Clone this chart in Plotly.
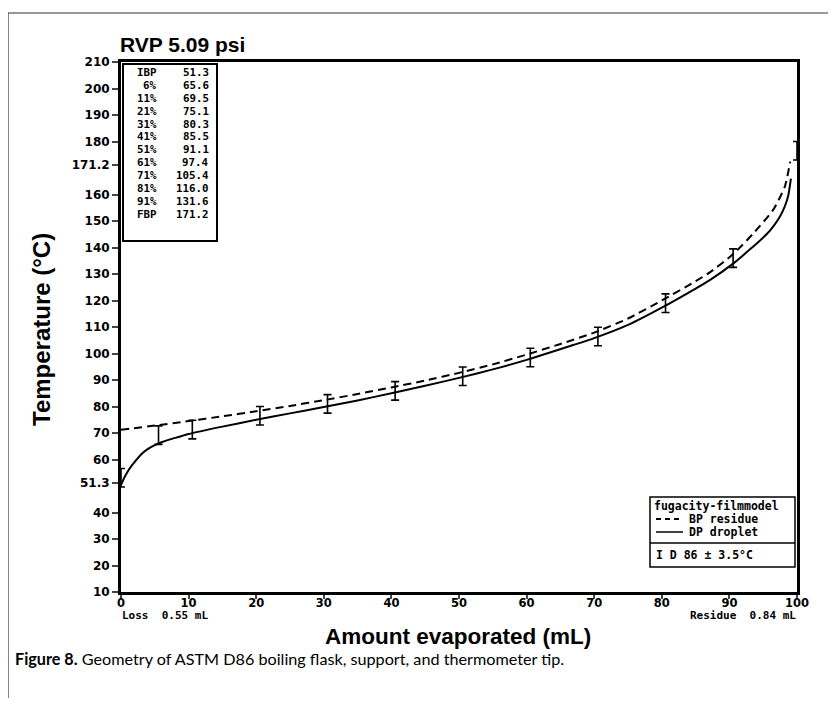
import plotly.graph_objects as go

# ---------------- data ----------------
title_text = "RVP 5.09 psi"
x_label = "Amount evaporated (mL)"
y_label = "Temperature (°C)"
caption_bold = "Figure 8."
caption_rest = " Geometry of ASTM D86 boiling flask, support, and thermometer tip."
loss_text = "Loss  0.55 mL"
residue_text = "Residue  0.84 mL"

table_labels = ["IBP", "6%", "11%", "21%", "31%", "41%", "51%", "61%", "71%", "81%", "91%", "FBP"]
table_values = ["51.3", "65.6", "69.5", "75.1", "80.3", "85.5", "91.1", "97.4", "105.4", "116.0", "131.6", "171.2"]

legend_title = "fugacity-filmmodel"
bp_name = "BP residue"
dp_name = "DP droplet"
d86_name = "D 86 ± 3.5°C"

# BP residue (dashed)
bp_x = [0, 5, 10, 15, 20, 25, 30, 35, 40, 45, 50, 55, 60, 65, 70, 75, 80, 85, 87.1, 90.6, 93.5, 96.5, 98.2, 99.0]
bp_t = [71.2, 72.8, 74.5, 76.3, 78.2, 80.2, 82.4, 84.7, 87.2, 89.8, 92.7, 95.9, 99.6, 103.6, 107.9, 113.2, 120.0, 127.3, 130.6, 137.6, 145.2, 154.3, 163.0, 172.4]

# DP droplet (solid)
dp_x = [0, 0.5, 1, 1.5, 2, 3, 4, 5, 6, 7, 8.5, 10, 15, 20, 25, 30, 35, 40, 45, 50, 55, 60, 66.9, 70, 75, 80, 85, 87.1, 90.6, 93.0, 95.5, 96.5, 97.5, 98.2, 98.7, 99.1]
dp_t = [50.4, 53.2, 55.5, 57.4, 59.0, 62.0, 64.0, 65.4, 66.5, 67.4, 68.5, 69.6, 72.4, 75.0, 77.4, 79.8, 82.3, 85.0, 87.8, 90.8, 94.0, 97.6, 103.2, 105.8, 110.8, 117.3, 124.5, 127.7, 134.0, 139.2, 145.0, 148.0, 151.8, 155.5, 159.5, 166.0]

# D86 measurements with +/- 3.5 error bars
d86_x = [0, 5.55, 10.55, 20.55, 30.55, 40.55, 50.55, 60.55, 70.55, 80.55, 90.55, 100]
d86_t = [53.1, 69.2, 71.3, 76.5, 81.0, 85.9, 91.4, 98.5, 106.4, 119.0, 136.0, 176.5]
d86_err = [3.5] * len(d86_x)

x_tickvals = [0, 10, 20, 30, 40, 50, 60, 70, 80, 90, 100]
y_tickvals = [10, 20, 30, 40, 51.3, 60, 70, 80, 90, 100, 110, 120, 130, 140, 150, 160, 171.2, 180, 190, 200, 210]
y_ticktext = ["10", "20", "30", "40", "51.3", "60", "70", "80", "90", "100", "110", "120", "130", "140", "150", "160", "171.2", "180", "190", "200", "210"]

# ---------------- layout geometry ----------------
# reference-pixel coordinates; the page body adds an 8px offset
OFF = 8
FW, FH = 820, 690
L, R, T, B = 121, 797, 62, 592          # plot area in reference pixels
PW, PH = R - L, B - T


def px(xp):
    return (xp - L) / PW


def py(yp):
    return (B - yp) / PH


mono = "DejaVu Sans Mono"
sans_b = "Liberation Sans"
black = "black"

fig = go.Figure()

fig.add_trace(go.Scatter(
    x=bp_x, y=bp_t, mode="lines", name=bp_name,
    line=dict(color=black, width=2, dash="8px,5px", shape="spline", smoothing=0.6), cliponaxis=False,
    showlegend=False))
fig.add_trace(go.Scatter(
    x=dp_x, y=dp_t, mode="lines", name=dp_name,
    line=dict(color=black, width=2, shape="spline", smoothing=0.6), cliponaxis=False, showlegend=False))
fig.add_trace(go.Scatter(
    x=d86_x, y=d86_t, mode="markers", name=d86_name,
    marker=dict(size=1, color=black),
    error_y=dict(type="data", array=d86_err, visible=True, color=black, thickness=1.6, width=4),
    cliponaxis=False, showlegend=False))

shapes = []
annotations = []


def txt(x, y, text, size, family=mono, xanchor="left", **kw):
    annotations.append(dict(xref="paper", yref="paper", x=px(x), y=py(y), xanchor=xanchor, yanchor="middle",
                            align=xanchor if xanchor in ("left", "right") else "center",
                            text=text, showarrow=False, borderpad=0,
                            font=dict(family=family, size=size, color=black,
                                      weight=kw.pop("weight", "bold")), **kw))


# outer frame (top, left, right)
fx0, fx1, fy0, fy1 = 8, 829, 13, 706
for (a, b, c, d) in [(fx0, fy0, fx1, fy0), (fx0, fy0, fx0, fy1), (fx1, fy0, fx1, fy1)]:
    shapes.append(dict(type="line", xref="paper", yref="paper", x0=px(a), y0=py(b), x1=px(c), y1=py(d),
                       line=dict(color="#333", width=1.2)))

# table box
shapes.append(dict(type="rect", xref="paper", yref="paper",
                   x0=px(123), x1=px(217), y0=py(241), y1=py(64),
                   line=dict(color=black, width=2)))
row0, drow = 72.7, 12.85
for i, (lab, val) in enumerate(zip(table_labels, table_values)):
    txt(158, row0 + i * drow, lab, 10.8, xanchor="right")
    txt(210, row0 + i * drow, val, 10.8, xanchor="right")

# legend box
lx0, lx1, ly0, ly1, ldiv = 650, 795, 497, 567, 543
shapes.append(dict(type="rect", xref="paper", yref="paper",
                   x0=px(lx0), x1=px(lx1), y0=py(ly1), y1=py(ly0),
                   line=dict(color=black, width=1.5), fillcolor="white"))
shapes.append(dict(type="line", xref="paper", yref="paper",
                   x0=px(lx0), x1=px(lx1), y0=py(ldiv), y1=py(ldiv),
                   line=dict(color=black, width=1.5)))
txt(653, 506, legend_title, 11.5)
shapes.append(dict(type="line", xref="paper", yref="paper",
                   x0=px(656), x1=px(683), y0=py(519), y1=py(519),
                   line=dict(color=black, width=2, dash="5px,4px")))
txt(688, 519, bp_name, 11.5)
shapes.append(dict(type="line", xref="paper", yref="paper",
                   x0=px(656), x1=px(683), y0=py(532), y1=py(532),
                   line=dict(color=black, width=1.5)))
txt(688, 532, dp_name, 11.5)
txt(655, 555, "I " + d86_name, 11.5)

# loss / residue
txt(121, 615, loss_text, 11)
txt(797, 615, residue_text, 11, xanchor="right")

# title
txt(119, 45, title_text, 21, family=sans_b)
# axis titles
txt(458, 636, x_label, 22.5, family=sans_b, xanchor="center")
txt(41, 330, y_label, 24, family=sans_b, xanchor="center", textangle=-90)
# caption
annotations.append(dict(xref="paper", yref="paper", x=px(13), y=py(658), xanchor="left", yanchor="middle",
                        align="left", text="<b>" + caption_bold + "</b>" + caption_rest, showarrow=False,
                        font=dict(family="Lato", size=16.2, color=black)))

axis_common = dict(ticks="outside", tickwidth=2, showline=True, linewidth=3, linecolor=black, mirror=True,
                   showgrid=False, zeroline=False)

fig.update_layout(
    width=FW, height=FH,
    margin=dict(l=L - OFF, r=FW - (R - OFF), t=T - OFF, b=FH - (B - OFF), pad=0),
    paper_bgcolor="white", plot_bgcolor="white",
    shapes=shapes, annotations=annotations,
    showlegend=False,
    xaxis=dict(range=[0, 100], tickvals=x_tickvals, ticklen=4, ticklabelstandoff=-6,
               tickfont=dict(family="DejaVu Sans", size=11.5, color=black, weight="bold"), **axis_common),
    yaxis=dict(range=[10, 210], tickvals=y_tickvals, ticktext=y_ticktext, ticklen=6,
               tickfont=dict(family="DejaVu Sans", size=12, color=black, weight="bold"), **axis_common),
)

fig.write_html("out.html")
